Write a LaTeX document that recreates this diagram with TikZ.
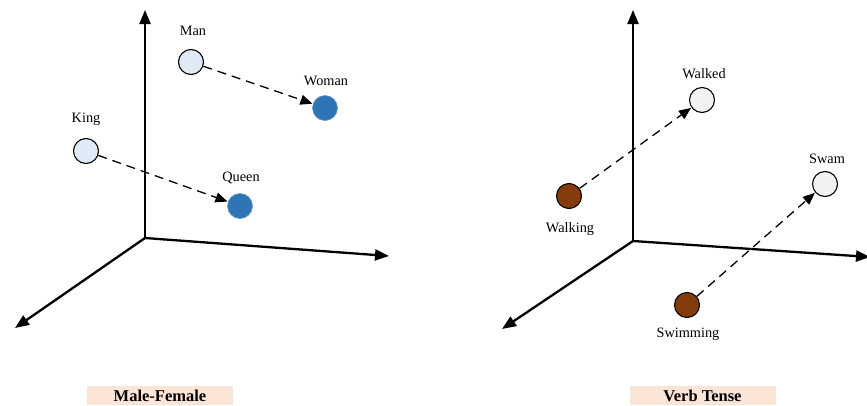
\documentclass[tikz,border=0pt]{standalone}
\usepackage{fontspec}
\setmainfont{Liberation Serif}
\usetikzlibrary{arrows.meta}
\definecolor{lblue}{HTML}{DEEBF7}
\definecolor{dblue}{HTML}{2E75B6}
\definecolor{brownc}{HTML}{843C0C}
\definecolor{lgrey}{HTML}{F2F2F2}
\definecolor{peach}{HTML}{FBE5D6}
\tikzset{
  axis/.style={line width=2.3pt,-{Triangle[length=14pt,width=11pt]}},
  vec/.style={line width=1.3pt,dash pattern=on 9pt off 6pt,-{Triangle[length=12pt,width=10pt]},shorten >=0.5pt},
  dot/.style={circle,minimum size=25pt,inner sep=0pt,line width=1.1pt},
  ltdot/.style={dot,draw=black,fill=lblue},
  bldot/.style={dot,fill=dblue,draw=dblue!70!lblue,line width=0.6pt},
  brdot/.style={dot,draw=black,fill=brownc},
  grdot/.style={dot,draw=black,fill=lgrey},
  lab/.style={font=\fontsize{14.3}{16}\selectfont,inner sep=0pt},
  caption/.style={fill=peach,font=\fontsize{16.5}{18}\selectfont\bfseries,minimum width=146pt,minimum height=19.5pt,inner sep=0pt}
}
\begin{document}
\begin{tikzpicture}[x=1pt,y=-1pt]
\useasboundingbox (0,0) rectangle (867,405);
% left panel
\coordinate (o1) at (145,238);
\coordinate (z1) at (145,10);
\coordinate (x1) at (389,256);
\coordinate (y1) at (15,328);
\draw[axis] (o1) -- (z1);
\draw[axis] (o1) -- (x1);
\draw[axis] (o1) -- (y1);
\node[ltdot] (man) at (191,62) {};
\node[bldot] (woman) at (325,108) {};
\node[ltdot] (king) at (86,151) {};
\node[bldot] (queen) at (240,206) {};
\node[lab] (lman) at (193,31) {Man};
\node[lab] (lwoman) at (326,81) {Woman};
\node[lab] (lking) at (86,119) {King};
\node[lab] (lqueen) at (241,178) {Queen};
\draw[vec] (man) -- (woman);
\draw[vec] (king) -- (queen);
% right panel
\coordinate (o2) at (633,241);
\coordinate (z2) at (633,10);
\coordinate (x2) at (870,257);
\coordinate (y2) at (502,329);
\draw[axis] (o2) -- (z2);
\draw[axis] (o2) -- (x2);
\draw[axis] (o2) -- (y2);
\node[grdot] (walked) at (702,100) {};
\node[brdot] (walking) at (569,196) {};
\node[grdot] (swam) at (825,184) {};
\node[brdot] (swimming) at (687,305) {};
\node[lab] (lwalked) at (704,74) {Walked};
\node[lab] (lwalking) at (570,229) {Walking};
\node[lab] (lswam) at (827,159) {Swam};
\node[lab] (lswimming) at (688,334) {Swimming};
\draw[vec] (walking) -- (walked);
\draw[vec] (swimming) -- (swam);
% captions
\node[caption] (c1) at (160,395.5) {Male-Female};
\node[caption] (c2) at (702.5,395.5) {Verb Tense};
\end{tikzpicture}
\end{document}
